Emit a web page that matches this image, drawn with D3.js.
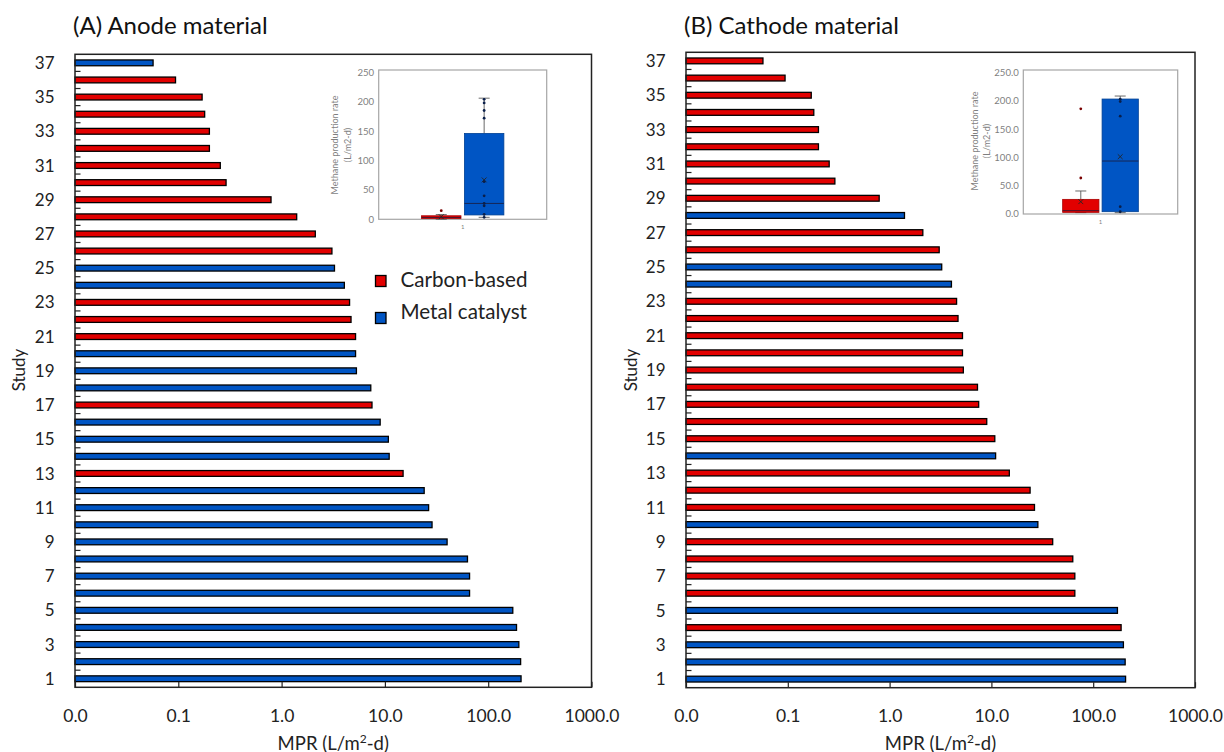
<!DOCTYPE html>
<html>
<head>
<meta charset="utf-8">
<script src="https://cdn.jsdelivr.net/npm/d3@7"></script>
<style>
  body { margin: 0; background: #fff; }
  svg { display: block; font-family: Lato, "Open Sans", sans-serif; }
</style>
</head>
<body>
<div id="chart"></div>
<script>
// ── data ──
const studies = [1, 2, 3, 4, 5, 6, 7, 8, 9, 10, 11, 12, 13, 14, 15, 16, 17, 18, 19, 20,
  21, 22, 23, 24, 25, 26, 27, 28, 29, 30, 31, 32, 33, 34, 35, 36, 37];
// MPR (L/m2-d), study 1 → 37
const mpr = [208, 206, 198, 188, 173, 66, 66, 63, 40, 28.6, 26.5, 24, 15, 11, 10.8, 9, 7.5, 7.3, 5.3, 5.2,
  5.2, 4.7, 4.55, 4.05, 3.25, 3.07, 2.12, 1.4, 0.79, 0.29, 0.255, 0.2, 0.2, 0.18, 0.17, 0.094, 0.057];
// C = Carbon-based, M = Metal catalyst
const anodeType = ["M", "M", "M", "M", "M", "M", "M", "M", "M", "M", "M", "M", "C", "M", "M", "M", "C", "M", "M", "M",
  "C", "C", "C", "M", "M", "C", "C", "C", "C", "C", "C", "C", "C", "C", "C", "C", "M"];
const cathodeType = ["M", "M", "M", "C", "M", "C", "C", "C", "C", "M", "C", "C", "C", "M", "C", "C", "C", "C", "C", "C",
  "C", "C", "C", "M", "M", "C", "C", "M", "C", "C", "C", "C", "C", "C", "C", "C", "C"];
const seriesNames = ["Carbon-based", "Metal catalyst"];
const xTicks = [0.01, 0.1, 1, 10, 100, 1000];
const xTickLabels = ["0.0", "0.1", "1.0", "10.0", "100.0", "1000.0"];

// inset box plots (Methane production rate, L/m2-d)
const insetTicks = [0, 50, 100, 150, 200, 250];
const anodeBoxes = [
  { lo: 0.1, q1: 1.4, med: 3.2, q3: 6, hi: 8, mean: 4.4 },
  { lo: 3.4, q1: 7.4, med: 27, q3: 146, hi: 206, mean: 67 },
];
const anodePoints = [[14.7], [204, 198, 185, 172, 64, 40, 27, 23, 8.5, 3.4]];
const cathodeBoxes = [
  { lo: 2.5, q1: 2.9, med: 5.9, q3: 25.9, hi: 40.7, mean: 21.8 },
  { lo: 2.4, q1: 4.1, med: 93.7, q3: 203.4, hi: 208.7, mean: 101.4 },
];
const cathodePoints = [[186, 63.7], [203, 199, 173, 13, 4]];

// ── layout ──
const W = 1224, H = 752;
const COL = { C: "#e20000", M: "#0055c4" };
const DOT = ["#7a0000", "#0a1f4a"];

const panels = [
  { title: "(A) Anode material", types: anodeType, x0: 75, x1: 591.5, y0: 54.3, y1: 687.3,
    studyX: 19, legend: true, boxes: anodeBoxes, points: anodePoints, fmt: d3.format("d"),
    inset: { x0: 378.7, x1: 546.7, top: 70, bot: 219.3, y250: 72.3, t1: 335, t2: 348, tc: 145 } },
  { title: "(B) Cathode material", types: cathodeType, x0: 686, x1: 1195, y0: 52.3, y1: 687.7,
    studyX: 631, legend: false, boxes: cathodeBoxes, points: cathodePoints, fmt: d3.format(".1f"),
    inset: { x0: 1023.3, x1: 1177.7, top: 70, bot: 214, y250: 72.7, t1: 975, t2: 986.5, tc: 141 } },
];

const svg = d3.select("#chart").append("svg")
  .attr("width", W).attr("height", H).attr("viewBox", `0 0 ${W} ${H}`);

panels.forEach(p => {
  const g = svg.append("g");

  g.append("text")
    .attr("x", p.x0 - 2).attr("y", 33.5)
    .attr("font-size", 24).attr("fill", "#111")
    .text(p.title);

  const x = d3.scaleLog().domain([0.01, 1000]).range([p.x0, p.x1]);
  const y = d3.scaleBand().domain(studies.slice().reverse()).range([p.y0, p.y1]).padding(0);
  const bw = y.bandwidth(), barH = 5.8;

  // bars
  g.append("g").selectAll("rect").data(studies).join("rect")
    .attr("x", p.x0)
    .attr("y", s => y(s) + (bw - barH) / 2)
    .attr("width", (s, i) => x(mpr[i]) - p.x0)
    .attr("height", barH)
    .attr("fill", (s, i) => COL[p.types[i]])
    .attr("stroke", "#000").attr("stroke-width", 1.3);

  // y ticks between categories (inward), labels on odd studies
  g.append("g").selectAll("line").data(studies.filter(s => s !== 1)).join("line")
    .attr("x1", p.x0).attr("x2", p.x0 + 5.5)
    .attr("y1", s => y(s) + bw).attr("y2", s => y(s) + bw)
    .attr("stroke", "#222").attr("stroke-width", 1.2);
  g.append("g").selectAll("text").data(studies.filter(s => s % 2 === 1)).join("text")
    .attr("x", p.x0 - 20.5).attr("y", s => y(s) + bw / 2)
    .attr("dy", "0.36em").attr("text-anchor", "end")
    .attr("font-size", 17).attr("fill", "#222")
    .text(s => s);

  // x axis
  const ax = g.append("g").attr("transform", `translate(0,${p.y1})`)
    .call(d3.axisBottom(x).tickValues(xTicks).tickSize(-5.5).tickFormat((d, i) => xTickLabels[i]));
  ax.select(".domain").remove();
  ax.selectAll(".tick line").attr("stroke", "#222").attr("stroke-width", 1.2);
  ax.selectAll(".tick text").attr("y", 28).attr("dy", "0.36em")
    .attr("font-size", 17.5).attr("fill", "#222").attr("font-family", "Lato, sans-serif");

  g.append("text")
    .attr("x", (p.x0 + p.x1) / 2).attr("y", 749.5)
    .attr("text-anchor", "middle").attr("font-size", 18.5).attr("fill", "#222")
    .call(t => {
      t.append("tspan").text("MPR (L/m");
      t.append("tspan").attr("font-size", 12).attr("dy", -7).text("2");
      t.append("tspan").attr("dy", 7).text("-d)");
    });

  g.append("text")
    .attr("transform", `translate(${p.studyX + 6},370) rotate(-90)`)
    .attr("text-anchor", "middle").attr("font-size", 17).attr("fill", "#222")
    .text("Study");

  // frame
  g.append("rect")
    .attr("x", p.x0).attr("y", p.y0)
    .attr("width", p.x1 - p.x0).attr("height", p.y1 - p.y0)
    .attr("fill", "none").attr("stroke", "#222").attr("stroke-width", 1.5);

  // legend
  if (p.legend) {
    const lg = g.append("g");
    seriesNames.forEach((nm, i) => {
      lg.append("rect")
        .attr("x", 375.5).attr("y", 275.5 + i * 37).attr("width", 10.5).attr("height", 11)
        .attr("fill", COL[i ? "M" : "C"]).attr("stroke", "#000").attr("stroke-width", 1.3);
      lg.append("text")
        .attr("x", 400.5).attr("y", 280 + i * 32).attr("dy", "0.36em")
        .attr("font-size", 20.6).attr("fill", "#222")
        .text(nm);
    });
  }

  // inset box plot
  const I = p.inset;
  const ig = g.append("g");
  const iy = d3.scaleLinear().domain([0, 250]).range([I.bot, I.y250]);
  const cat = d3.scaleBand().domain(["1"]).range([I.x0, I.x1]).paddingOuter(0.52).paddingInner(0);
  const ser = d3.scaleBand().domain([0, 1]).range([0, cat.bandwidth()]).paddingInner(0.08);
  const sw = ser.bandwidth();

  ig.append("rect")
    .attr("x", I.x0).attr("y", I.top).attr("width", I.x1 - I.x0).attr("height", I.bot - I.top)
    .attr("fill", "#fff").attr("stroke", "#a6a6a6").attr("stroke-width", 1.2);
  ig.append("g").selectAll("text").data(insetTicks).join("text")
    .attr("x", I.x0 - 4.5).attr("y", d => iy(d)).attr("dy", "0.36em")
    .attr("text-anchor", "end").attr("font-size", 9.6).attr("fill", "#7f7f7f")
    .text(d => p.fmt(d));
  ig.append("text")
    .attr("x", cat("1") + cat.bandwidth() / 2).attr("y", I.bot + 10)
    .attr("text-anchor", "middle").attr("font-size", 6).attr("fill", "#7f7f7f")
    .text("1");
  [["Methane production rate", I.t1], ["(L/m2-d)", I.t2]].forEach(([t, tx]) => {
    ig.append("text")
      .attr("transform", `translate(${tx},${I.tc}) rotate(-90)`)
      .attr("dy", "0.36em").attr("text-anchor", "middle")
      .attr("font-size", 9).attr("fill", "#7f7f7f")
      .text(t);
  });

  p.boxes.forEach((b, i) => {
    const bx = cat("1") + ser(i), cx = bx + sw / 2, cap = 11;
    const col = COL[i ? "M" : "C"];
    // whiskers
    ig.append("line").attr("x1", cx).attr("x2", cx).attr("y1", iy(b.q3)).attr("y2", iy(b.hi))
      .attr("stroke", "#595959").attr("stroke-width", 0.9);
    ig.append("line").attr("x1", cx).attr("x2", cx).attr("y1", iy(b.q1)).attr("y2", iy(b.lo))
      .attr("stroke", "#595959").attr("stroke-width", 0.9);
    [b.hi, b.lo].forEach(v => ig.append("line")
      .attr("x1", cx - cap / 2).attr("x2", cx + cap / 2).attr("y1", iy(v)).attr("y2", iy(v))
      .attr("stroke", "#595959").attr("stroke-width", 0.9));
    // box
    ig.append("rect")
      .attr("x", bx).attr("y", iy(b.q3)).attr("width", sw).attr("height", iy(b.q1) - iy(b.q3))
      .attr("fill", col).attr("stroke", d3.color(col).darker(0.8)).attr("stroke-width", 0.8);
    ig.append("line").attr("x1", bx).attr("x2", bx + sw).attr("y1", iy(b.med)).attr("y2", iy(b.med))
      .attr("stroke", "#1a1a3a").attr("stroke-width", 0.8);
    // mean marker
    const m = iy(b.mean), r = 2.4;
    ig.append("path")
      .attr("d", `M${cx - r},${m - r}L${cx + r},${m + r}M${cx - r},${m + r}L${cx + r},${m - r}`)
      .attr("stroke", "#262626").attr("stroke-width", 0.9);
    // points
    ig.append("g").selectAll("circle").data(p.points[i]).join("circle")
      .attr("cx", cx).attr("cy", v => iy(v)).attr("r", 1.4)
      .attr("fill", DOT[i]);
  });
});
</script>
</body>
</html>
